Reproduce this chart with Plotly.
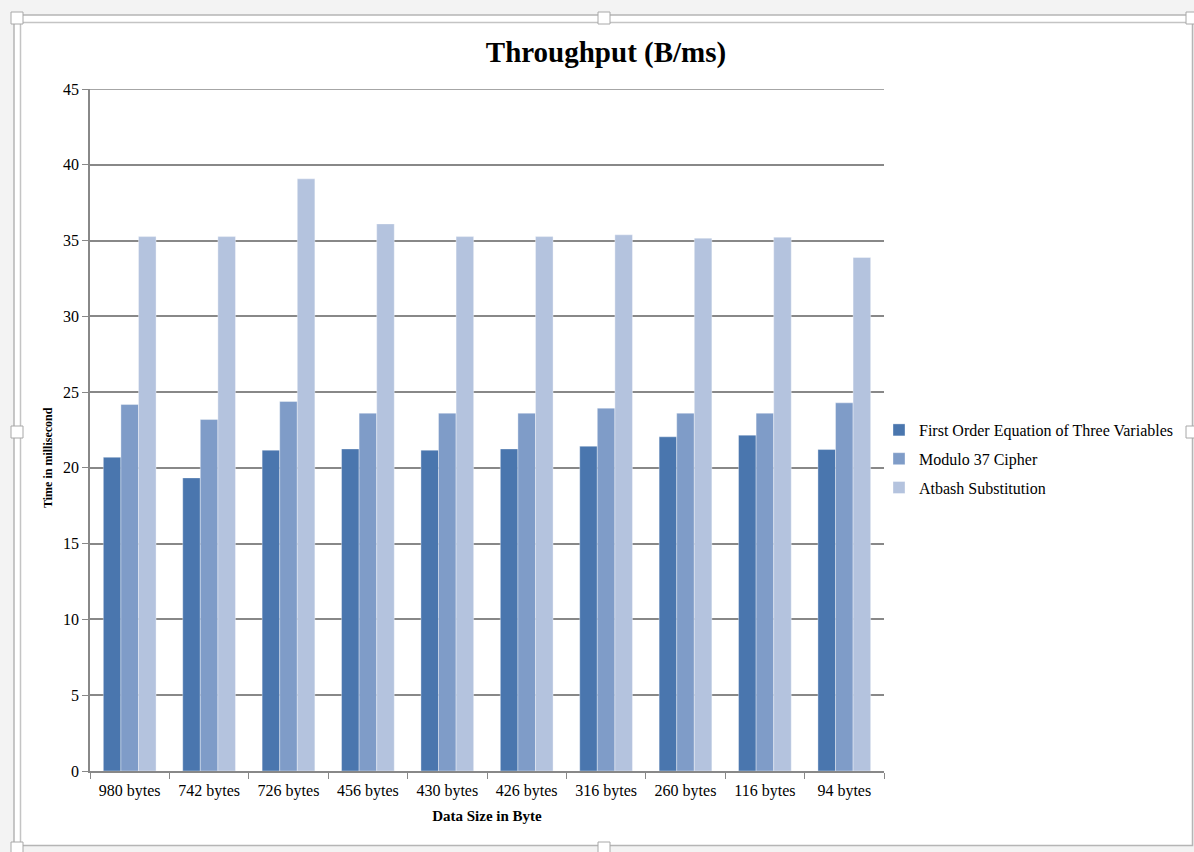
import plotly.graph_objects as go

# Data sizes tested (x categories)
sizes = ["980 bytes", "742 bytes", "726 bytes", "456 bytes", "430 bytes",
         "426 bytes", "316 bytes", "260 bytes", "116 bytes", "94 bytes"]

# Throughput per algorithm
first_order = [20.7, 19.34, 21.17, 21.25, 21.17, 21.25, 21.43, 22.05, 22.16, 21.21]
modulo37 = [24.18, 23.19, 24.38, 23.61, 23.61, 23.61, 23.94, 23.61, 23.61, 24.29]
atbash = [35.26, 35.26, 39.07, 36.1, 35.26, 35.26, 35.38, 35.16, 35.22, 33.88]

series_names = ["First Order Equation of Three Variables", "Modulo 37 Cipher", "Atbash Substitution"]
series_values = [first_order, modulo37, atbash]
series_colors = ["#4a76ae", "#7f9cc8", "#b4c3de"]

y_ticks = [0, 5, 10, 15, 20, 25, 30, 35, 40, 45]

W, H = 1194, 852
L, R, T, B = 90, 310, 89, 81
PW, PH = W - L - R, H - T - B

def px(x):
    return (x - L) / PW

def py(y):
    return (H - B - y) / PH

FONT = "Liberation Serif"

fig = go.Figure()
for i, (name, vals, col) in enumerate(zip(series_names, series_values, series_colors)):
    fig.add_trace(go.Bar(
        x=sizes, y=vals, name=name, legendgroup=f"g{i}",
        marker=dict(color=col, line=dict(color="rgba(255,255,255,0.6)", width=0.6)),
    ))

shapes = []
# window frame around the chart
shapes.append(dict(type="rect", xref="paper", yref="paper", layer="below",
                   x0=px(0), x1=px(W), y0=py(H), y1=py(0),
                   fillcolor="#f3f3f3", line=dict(width=0)))
shapes.append(dict(type="rect", xref="paper", yref="paper", layer="below",
                   x0=px(14), x1=px(1192.5), y0=py(845.5), y1=py(15),
                   fillcolor="white", line=dict(color="#b5b5b5", width=1.5)))
shapes.append(dict(type="line", xref="paper", yref="paper", layer="below",
                   x0=px(20.5), x1=px(20.5), y0=py(845.5), y1=py(22.5),
                   line=dict(color="#c4c4c4", width=1.5)))
shapes.append(dict(type="line", xref="paper", yref="paper", layer="below",
                   x0=px(20.5), x1=px(1192.5), y0=py(22.5), y1=py(22.5),
                   line=dict(color="#c4c4c4", width=1.5)))
# top gridline at the end of the value axis
shapes.append(dict(type="line", xref="paper", yref="y", layer="below",
                   x0=0, x1=1, y0=y_ticks[-1], y1=y_ticks[-1],
                   line=dict(color="#888", width=1.5)))
# resize handles
for hx, hy in [(17, 18), (604, 18), (1192, 18), (17, 432), (1192, 432), (17, 848), (604, 848)]:
    shapes.append(dict(type="rect", xref="paper", yref="paper", layer="above",
                       x0=px(hx - 6), x1=px(hx + 6), y0=py(hy + 6), y1=py(hy - 6),
                       fillcolor="white", line=dict(color="#a8a8a8", width=1)))

fig.update_layout(
    width=W, height=H,
    margin=dict(l=L, r=R, t=T, b=B, autoexpand=False),
    paper_bgcolor="white", plot_bgcolor="white",
    font=dict(family=FONT, color="black"),
    title=dict(text="<b>Throughput (B/ms)</b>", font=dict(size=29, family=FONT),
               x=606 / W, xref="container", xanchor="center",
               y=1 - 52 / H, yref="container", yanchor="middle"),
    barmode="group", bargap=0.336, bargroupgap=0,
    shapes=shapes,
    showlegend=True,
    legend=dict(x=px(879), y=py(459), xanchor="left", yanchor="middle",
                font=dict(size=16, family=FONT), tracegroupgap=5,
                bgcolor="rgba(0,0,0,0)"),
    annotations=[dict(text="<b>Time in millisecond</b>", textangle=-90,
                      xref="paper", yref="paper", x=px(48), y=py(458),
                      xanchor="center", yanchor="middle", showarrow=False,
                      font=dict(size=12, family=FONT))],
    xaxis=dict(
        type="category", tickson="boundaries", ticks="outside", ticklen=6,
        tickcolor="#888", showline=True, linecolor="#888", linewidth=1.5,
        tickfont=dict(size=16, family=FONT), showgrid=False, ticklabelstandoff=4,
        title=dict(text="<b>Data Size in Byte</b>", font=dict(size=15, family=FONT), standoff=12),
    ),
    yaxis=dict(
        range=[0, 45], tickvals=y_ticks,
        ticks="outside", ticklen=6, tickcolor="#888",
        showline=True, linecolor="#888", linewidth=1.5,
        showgrid=True, gridcolor="#888", gridwidth=1.5, zeroline=False,
        tickfont=dict(size=16, family=FONT),
    ),
)

fig.write_html("out.html")
